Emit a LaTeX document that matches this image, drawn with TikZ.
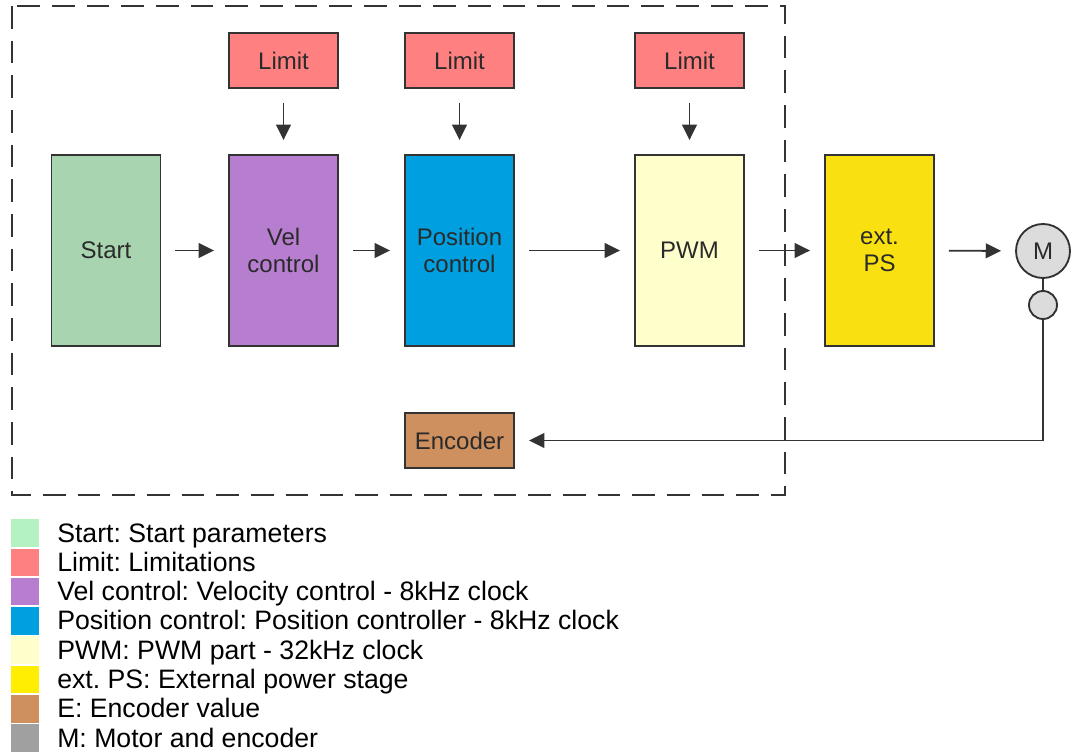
\documentclass[tikz,border=0pt]{standalone}
\usepackage{fontspec}
\setmainfont{Liberation Sans}
\usetikzlibrary{arrows.meta}
\frenchspacing
\definecolor{lnc}{HTML}{333333}
\definecolor{txc}{HTML}{2A2A2A}
\definecolor{cstart}{HTML}{A8D4B0}
\definecolor{cstartL}{HTML}{B4F2C2}
\definecolor{climit}{HTML}{FF8080}
\definecolor{cvel}{HTML}{B77ED0}
\definecolor{cpos}{HTML}{00A0E0}
\definecolor{cpwm}{HTML}{FFFFCC}
\definecolor{cext}{HTML}{F9E011}
\definecolor{cextL}{HTML}{FFEE00}
\definecolor{cenc}{HTML}{CF9060}
\definecolor{cmot}{HTML}{DCDCDC}
\definecolor{cmotL}{HTML}{A0A0A0}
\tikzset{
  blk/.style={draw=lnc, line width=1.4pt, minimum width=81.75pt, minimum height=143.25pt,
    inner sep=0pt, align=center, text=txc, font=\fontsize{18}{20}\selectfont},
  lim/.style={blk, fill=climit, minimum height=41.25pt},
  arr/.style={draw=lnc, line width=1.4pt, -{Triangle[length=11.5pt,width=11pt]},
    shorten <=10.5pt, shorten >=10.5pt},
  ln/.style={draw=lnc, line width=1.4pt},
  legsq/.style={minimum width=21pt, minimum height=20.6pt, inner sep=0pt},
  legtx/.style={anchor=base west, inner sep=0pt, text=black, font=\fontsize{20}{22}\selectfont},
}
\begin{document}
\begin{tikzpicture}[x=0.75pt,y=-0.75pt]
\useasboundingbox (0,0) rectangle (1078,753);
% dashed frame
\draw[draw=lnc, line width=1.5pt, dash pattern=on 17pt off 9pt] (12,6) rectangle (785,495);
% blocks
\node[blk, fill=cstart] (start) at (106,250.5) {Start};
\node[blk, fill=cvel] (vel) at (283.5,250.5) {Vel\\control};
\node[blk, fill=cpos] (pos) at (459.5,250.5) {Position\\control};
\node[blk, fill=cpwm] (pwm) at (689.5,250.5) {PWM};
\node[blk, fill=cext] (ext) at (879.5,250.5) {ext.\\PS};
\node[lim] (lim1) at (283.5,60.5) {Limit};
\node[lim] (lim2) at (459.5,60.5) {Limit};
\node[lim] (lim3) at (689.5,60.5) {Limit};
\node[blk, fill=cenc, minimum height=41.25pt] (enc) at (459.5,440.5) {Encoder};
\node[circle, draw=lnc, line width=1.4pt, fill=cmot, minimum size=40.5pt, inner sep=0pt,
  text=txc, font=\fontsize{18}{20}\selectfont] (mot) at (1043,251) {M};
\node[circle, draw=lnc, line width=1.4pt, fill=cmot, minimum size=21pt, inner sep=0pt] (sens) at (1043,305) {};
% connectors
\draw[arr] (start) -- (vel);
\draw[arr] (vel) -- (pos);
\draw[arr] (pos) -- (pwm);
\draw[arr] (pwm) -- (ext);
\draw[arr] (ext) -- (mot);
\draw[arr] (lim1) -- (vel);
\draw[arr] (lim2) -- (pos);
\draw[arr] (lim3) -- (pwm);
\draw[ln] (mot) -- (sens);
\draw[arr, shorten <=0pt] (sens.south) |- (enc.east);
% legend
\foreach \c/\t [count=\i from 0] in {cstartL/Start: Start parameters,
  climit/Limit: Limitations,
  cvel/Vel control: Velocity control - 8kHz clock,
  cpos/Position control: Position controller - 8kHz clock,
  cpwm/PWM: PWM part - 32kHz clock,
  cextL/ext. PS: External power stage,
  cenc/E: Encoder value,
  cmotL/M: Motor and encoder}{
  \node[legsq, fill=\c] (sq\i) at (25,533+29.3*\i) {};
  \node[legtx] (lt\i) at (57,542+29.3*\i) {\t};
}
\end{tikzpicture}
\end{document}
